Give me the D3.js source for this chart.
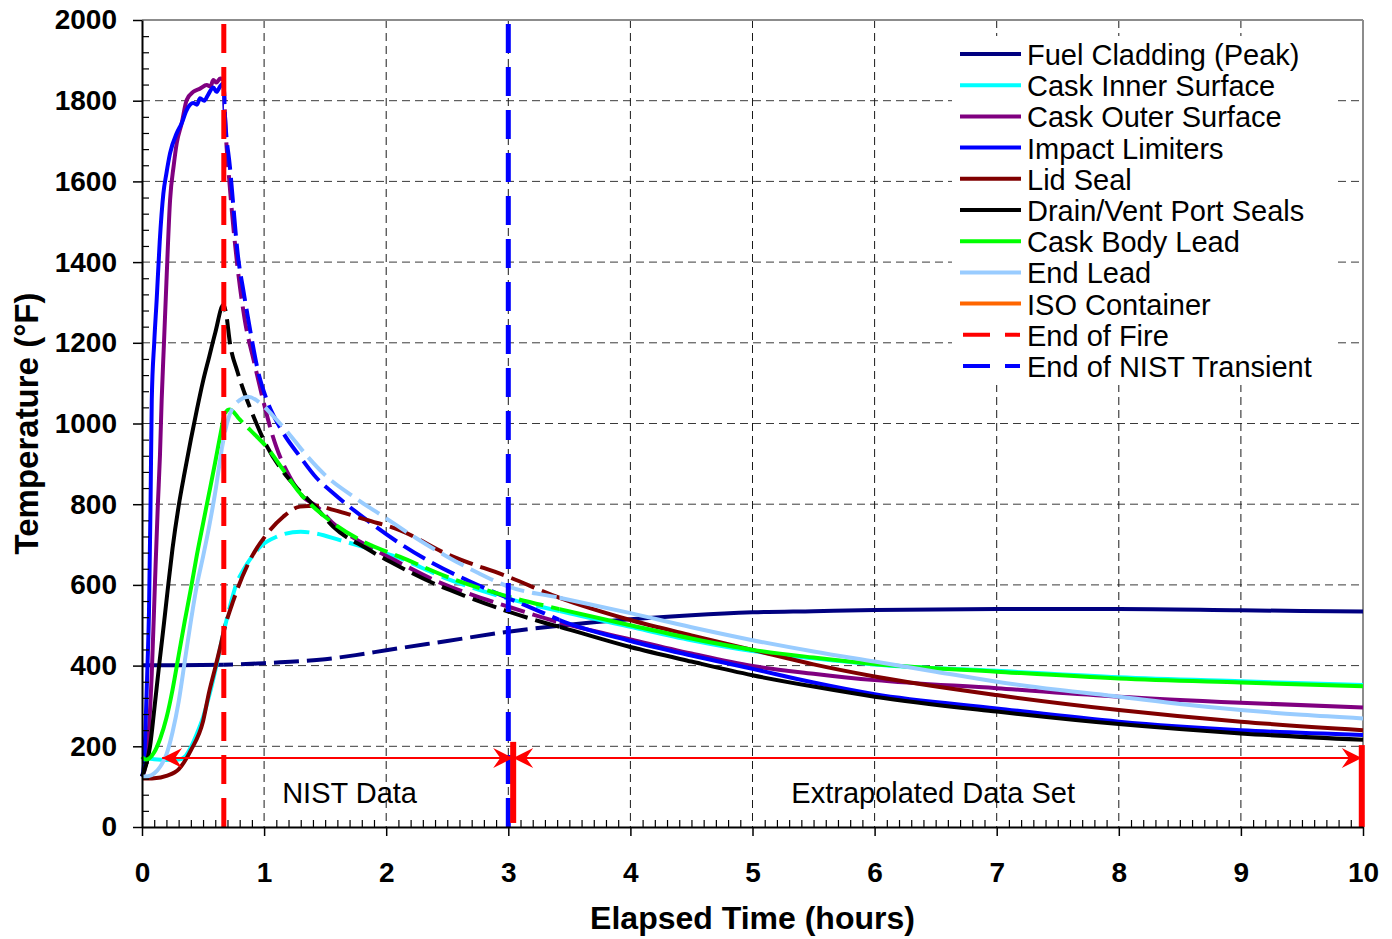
<!DOCTYPE html>
<html>
<head>
<meta charset="utf-8">
<script src="https://cdn.jsdelivr.net/npm/d3@7"></script>
<style>
  body { margin: 0; background: #fff; }
  svg text { font-family: "Liberation Sans", Arial, sans-serif; }
</style>
</head>
<body>
<svg class="main" width="1392" height="939"></svg>
<script>
var FIRE_END = 0.67;   // hours
var NIST_END = 3.0;    // hours
var DASH_END = 3.42;   // series drawn dashed between FIRE_END and here

var X_TICKS = d3.range(0, 11);
var Y_TICKS = d3.range(0, 2001, 200);

// [hours, degF]
var fuelCladding = [[0,401],[0.3,401],[0.67,402],[1.0,406],[1.25,410],[1.5,416],[1.75,426],[2.0,438],[2.5,461],[3.0,484],[3.42,499],[4.0,515],[4.5,525],[5.0,532],[5.5,535],[6.0,538],[7.0,540],[8.0,540],[9.0,537],[10.0,534]];
var caskInner = [[0,172],[0.05,170],[0.1,168],[0.2,166],[0.3,167],[0.35,174],[0.4,198],[0.45,232],[0.5,272],[0.55,325],[0.6,388],[0.67,485],[0.72,546],[0.77,600],[0.83,637],[0.9,670],[0.97,695],[1.1,719],[1.3,732],[1.43,727],[1.62,711],[1.84,692],[2.06,672],[2.5,615],[3.0,566],[3.42,535],[4.0,496],[4.5,463],[5.0,436],[5.5,418],[6.0,403],[7.0,387],[8.0,371],[9.0,361],[10.0,352]];
var caskOuter = [[0,125],[0.02,140],[0.05,215],[0.08,380],[0.107,612],[0.13,800],[0.147,920],[0.161,1058],[0.18,1200],[0.2,1350],[0.23,1554],[0.26,1640],[0.284,1694],[0.325,1744],[0.366,1802],[0.42,1822],[0.475,1830],[0.53,1839],[0.56,1835],[0.584,1851],[0.61,1845],[0.64,1855],[0.667,1852],[0.68,1760],[0.69,1700],[0.71,1620],[0.76,1450],[0.84,1260],[0.92,1150],[0.99,1060],[1.05,990],[1.1,942],[1.21,868],[1.32,818],[1.43,795],[1.567,752],[1.84,698],[2.11,655],[2.386,613],[2.66,580],[3.0,546],[3.42,507],[4.0,465],[4.5,430],[5.0,399],[5.5,380],[6.0,364],[7.0,344],[8.0,323],[9.0,308],[10.0,296]];
var impactLimiters = [[0,125],[0.015,150],[0.03,260],[0.045,400],[0.057,530],[0.07,800],[0.08,1058],[0.1,1200],[0.12,1306],[0.145,1450],[0.175,1570],[0.2,1620],[0.23,1670],[0.284,1719],[0.325,1744],[0.366,1777],[0.42,1794],[0.45,1790],[0.475,1806],[0.51,1800],[0.54,1814],[0.584,1833],[0.61,1822],[0.64,1836],[0.667,1843],[0.68,1760],[0.72,1636],[0.79,1405],[0.83,1330],[0.89,1224],[0.95,1130],[1.02,1060],[1.15,980],[1.294,918],[1.43,865],[1.567,827],[1.84,761],[2.11,703],[2.386,653],[2.66,612],[3.0,567],[3.26,534],[3.42,513],[4.0,461],[4.5,425],[5.0,392],[5.5,358],[6.0,329],[7.0,294],[8.0,261],[9.0,240],[10.0,228]];
var lidSeal = [[0,120],[0.1,121],[0.2,127],[0.3,143],[0.4,190],[0.5,262],[0.55,335],[0.6,395],[0.64,445],[0.67,485],[0.75,563],[0.885,662],[1.02,725],[1.157,769],[1.294,794],[1.43,796],[1.567,786],[1.84,761],[2.11,736],[2.5,676],[3.0,620],[3.42,568],[4.0,513],[4.5,475],[5.0,439],[5.5,403],[6.0,373],[7.0,327],[8.0,290],[9.0,261],[10.0,240]];
var drainVent = [[0,125],[0.03,150],[0.066,200],[0.1,290],[0.14,400],[0.18,505],[0.215,600],[0.25,690],[0.3,795],[0.35,880],[0.4,960],[0.45,1035],[0.5,1105],[0.55,1165],[0.6,1225],[0.667,1294],[0.69,1270],[0.72,1200],[0.78,1130],[0.84,1075],[0.91,1020],[1.02,945],[1.157,880],[1.294,832],[1.43,790],[1.567,744],[1.84,690],[2.11,645],[2.386,604],[2.66,571],[3.0,534],[3.31,505],[3.42,496],[4.0,446],[4.5,410],[5.0,376],[5.5,348],[6.0,323],[7.0,286],[8.0,255],[9.0,232],[10.0,216]];
var caskBodyLead = [[0,174],[0.03,167],[0.06,170],[0.1,185],[0.15,220],[0.2,270],[0.25,340],[0.3,425],[0.35,510],[0.4,590],[0.45,675],[0.5,752],[0.55,828],[0.6,905],[0.65,985],[0.67,1015],[0.7,1033],[0.72,1035],[0.8,1010],[0.885,984],[1.02,942],[1.157,885],[1.294,827],[1.43,786],[1.567,753],[1.84,703],[2.11,670],[2.5,620],[3.0,571],[3.42,540],[4.0,500],[4.5,467],[5.0,439],[5.5,420],[6.0,404],[7.0,385],[8.0,368],[9.0,358],[10.0,349]];
var endLead = [[0,125],[0.05,126],[0.1,133],[0.15,150],[0.2,180],[0.25,235],[0.3,310],[0.35,410],[0.4,510],[0.45,600],[0.5,670],[0.55,745],[0.6,830],[0.65,930],[0.67,965],[0.71,1015],[0.75,1042],[0.8,1058],[0.87,1066],[0.95,1055],[1.0,1042],[1.1,1010],[1.2,976],[1.35,920],[1.5,872],[1.75,815],[2.0,765],[2.25,715],[2.5,670],[2.75,630],[3.0,596],[3.42,568],[4.0,530],[4.5,495],[5.0,463],[5.5,435],[6.0,410],[6.5,385],[7.0,360],[7.5,340],[8.0,323],[8.5,305],[9.0,290],[9.5,278],[10.0,269]];
var isoContainer = []; // legend only, no trace on the plot

var SERIES = [
  {name: 'Fuel Cladding (Peak)', color: '#000080', data: fuelCladding},
  {name: 'Cask Inner Surface', color: '#00FFFF', data: caskInner},
  {name: 'Cask Outer Surface', color: '#800080', data: caskOuter},
  {name: 'Impact Limiters', color: '#0000FF', data: impactLimiters},
  {name: 'Lid Seal', color: '#800000', data: lidSeal},
  {name: 'Drain/Vent Port Seals', color: '#000000', data: drainVent},
  {name: 'Cask Body Lead', color: '#00FF00', data: caskBodyLead},
  {name: 'End Lead', color: '#99CCFF', data: endLead},
  {name: 'ISO Container', color: '#FF6600', data: isoContainer}
];
var REF_LINES = [
  {name: 'End of Fire', color: '#FF0000', t: FIRE_END},
  {name: 'End of NIST Transient', color: '#0000FF', t: NIST_END}
];

// red span annotation along the bottom
var SPAN_TEMP = 171;
var SPANS = [
  {label: 'NIST Data', from: 0.165, to: 3.04, labelAt: 1.7},
  {label: 'Extrapolated Data Set', from: 3.04, to: 9.99, labelAt: 6.48}
];
var BARS = [[3.04, 10, 211], [9.99, 0, 203]]; // [hours, low degF, high degF]

var svg = d3.select('svg.main');
var x = d3.scaleLinear().domain([0, 10]).range([142, 1363]);
var y = d3.scaleLinear().domain([0, 2000]).range([827, 20]);

function drawGrid() {
  var g = svg.append('g').attr('class', 'grid');
  g.selectAll('line.h')
    .data(Y_TICKS.filter(function(d) { return d > 0 && d < 2000; }))
    .enter().append('line')
    .attr('x1', x(0)).attr('x2', x(10))
    .attr('y1', function(d) { return y(d); })
    .attr('y2', function(d) { return y(d); })
    .attr('stroke', '#3a3a3a').attr('stroke-width', 1)
    .attr('stroke-dasharray', '8,5');
  g.selectAll('line.v')
    .data(X_TICKS.filter(function(d) { return d > 0 && d < 10; }))
    .enter().append('line')
    .attr('x1', function(d) { return x(d); })
    .attr('x2', function(d) { return x(d); })
    .attr('y1', y(2000)).attr('y2', y(0))
    .attr('stroke', '#1a1a1a').attr('stroke-width', 1)
    .attr('stroke-dasharray', '8,5');

  // top / right frame in grey
  g.append('line').attr('x1', x(0)).attr('x2', x(10)).attr('y1', y(2000)).attr('y2', y(2000))
    .attr('stroke', '#8c8c8c').attr('stroke-width', 2);
  g.append('line').attr('x1', x(10)).attr('x2', x(10)).attr('y1', y(2000)).attr('y2', y(0))
    .attr('stroke', '#8c8c8c').attr('stroke-width', 2);
}

function drawSeries() {
  var defs = svg.append('defs');
  var solid = defs.append('clipPath').attr('id', 'clip-solid');
  solid.append('rect').attr('x', 0).attr('y', 0)
    .attr('width', x(FIRE_END)).attr('height', 939);
  solid.append('rect').attr('x', x(DASH_END)).attr('y', 0)
    .attr('width', 1392 - x(DASH_END)).attr('height', 939);
  defs.append('clipPath').attr('id', 'clip-dash')
    .append('rect').attr('x', x(FIRE_END)).attr('y', 0)
    .attr('width', x(DASH_END) - x(FIRE_END)).attr('height', 939);

  var line = d3.line()
    .x(function(d) { return x(d[0]); })
    .y(function(d) { return y(d[1]); })
    .curve(d3.curveMonotoneX);

  var g = svg.append('g').attr('class', 'series');
  SERIES.forEach(function(s) {
    if (!s.data.length) return;
    g.append('path').datum(s.data)
      .attr('d', line)
      .attr('fill', 'none').attr('stroke', s.color).attr('stroke-width', 4)
      .attr('stroke-linejoin', 'round')
      .attr('clip-path', 'url(#clip-solid)');
    g.append('path').datum(s.data)
      .attr('d', line)
      .attr('fill', 'none').attr('stroke', s.color).attr('stroke-width', 4)
      .attr('stroke-dasharray', '25,8')
      .attr('clip-path', 'url(#clip-dash)');
  });
}

function drawRefLines() {
  svg.append('g').attr('class', 'ref-lines')
    .selectAll('line').data(REF_LINES)
    .enter().append('line')
    .attr('x1', function(d) { return x(d.t); })
    .attr('x2', function(d) { return x(d.t); })
    .attr('y1', y(0)).attr('y2', y(2000))
    .attr('stroke', function(d) { return d.color; })
    .attr('stroke-width', 5)
    .attr('stroke-dasharray', '29,14');
}

function arrowHead(tipX, tipY, dir) {
  return 'M' + tipX + ',' + tipY +
    'L' + (tipX + dir * 20) + ',' + (tipY - 10) +
    'L' + (tipX + dir * 13) + ',' + tipY +
    'L' + (tipX + dir * 20) + ',' + (tipY + 10) + 'Z';
}

function drawSpans() {
  var g = svg.append('g').attr('class', 'spans');
  var yy = y(SPAN_TEMP);

  BARS.forEach(function(b) {
    g.append('line')
      .attr('x1', x(b[0])).attr('x2', x(b[0]))
      .attr('y1', y(b[1])).attr('y2', y(b[2]))
      .attr('stroke', '#FF0000').attr('stroke-width', 6);
  });

  SPANS.forEach(function(s) {
    g.append('line')
      .attr('x1', x(s.from)).attr('x2', x(s.to))
      .attr('y1', yy).attr('y2', yy)
      .attr('stroke', '#FF0000').attr('stroke-width', 2);
    g.append('path').attr('d', arrowHead(x(s.from), yy, 1)).attr('fill', '#FF0000');
    g.append('path').attr('d', arrowHead(x(s.to), yy, -1)).attr('fill', '#FF0000');
    g.append('text')
      .attr('x', x(s.labelAt)).attr('y', 803)
      .attr('text-anchor', 'middle')
      .style('font-size', '29px')
      .attr('fill', '#000')
      .text(s.label);
  });
}

function drawAxes() {
  var minorX = d3.range(0, 101).filter(function(i) { return i % 10 !== 0; }).map(function(i) { return i / 10; });
  var minorY = d3.range(0, 2001, 40).filter(function(d) { return d % 200 !== 0; });

  var mx = svg.append('g').attr('transform', 'translate(0,' + y(0) + ')')
    .call(d3.axisTop(x).tickValues(minorX).tickSize(7).tickFormat(''));
  mx.select('.domain').remove();
  mx.selectAll('line').attr('stroke', '#000').attr('stroke-width', 1.2);

  var my = svg.append('g').attr('transform', 'translate(' + x(0) + ',0)')
    .call(d3.axisRight(y).tickValues(minorY).tickSize(7).tickFormat(''));
  my.select('.domain').remove();
  my.selectAll('line').attr('stroke', '#000').attr('stroke-width', 1.2);

  var gx = svg.append('g').attr('class', 'x-axis')
    .attr('transform', 'translate(0,' + y(0) + ')')
    .call(d3.axisBottom(x).tickValues(X_TICKS).tickSize(9).tickSizeOuter(0).tickPadding(26).tickFormat(d3.format('d')));
  gx.select('.domain').attr('stroke', '#000').attr('stroke-width', 2);
  gx.selectAll('line').attr('stroke', '#000').attr('stroke-width', 1.5);
  gx.selectAll('text')
    .style('font-family', '"Liberation Sans", Arial, sans-serif')
    .style('font-size', '28px').style('font-weight', 'bold').attr('fill', '#000');

  var gy = svg.append('g').attr('class', 'y-axis')
    .attr('transform', 'translate(' + x(0) + ',0)')
    .call(d3.axisLeft(y).tickValues(Y_TICKS).tickSize(9).tickSizeOuter(0).tickPadding(16).tickFormat(d3.format('d')));
  gy.select('.domain').attr('stroke', '#000').attr('stroke-width', 2);
  gy.selectAll('line').attr('stroke', '#000').attr('stroke-width', 1.5);
  gy.selectAll('text')
    .style('font-family', '"Liberation Sans", Arial, sans-serif')
    .style('font-size', '28px').style('font-weight', 'bold').attr('fill', '#000');

  svg.append('text')
    .attr('x', (x(0) + x(10)) / 2).attr('y', 929)
    .attr('text-anchor', 'middle')
    .style('font-size', '32px').style('font-weight', 'bold')
    .text('Elapsed Time (hours)');

  svg.append('text')
    .attr('transform', 'translate(38,' + (y(0) + y(2000)) / 2 + ') rotate(-90)')
    .attr('text-anchor', 'middle')
    .style('font-size', '33px').style('font-weight', 'bold')
    .text('Temperature (°F)');
}

function drawLegend() {
  var g = svg.append('g').attr('class', 'legend');
  g.append('rect')
    .attr('x', 952).attr('y', 36).attr('width', 386).attr('height', 349)
    .attr('fill', '#fff');

  var rowH = 31.2;
  var items = SERIES.map(function(s) { return {name: s.name, color: s.color, dashed: false}; })
    .concat(REF_LINES.map(function(r) { return {name: r.name, color: r.color, dashed: true}; }));

  items.forEach(function(d, i) {
    var ly = 54 + i * rowH;
    if (d.dashed) {
      g.append('line')
        .attr('x1', 963).attr('x2', 1020).attr('y1', ly).attr('y2', ly)
        .attr('stroke', d.color).attr('stroke-width', 4)
        .attr('stroke-dasharray', '27,15');
    } else {
      g.append('line')
        .attr('x1', 960).attr('x2', 1021).attr('y1', ly).attr('y2', ly)
        .attr('stroke', d.color).attr('stroke-width', 4);
    }
    g.append('text')
      .attr('x', 1027).attr('y', ly + 11)
      .style('font-size', '29px')
      .attr('fill', '#000')
      .text(d.name);
  });
}

function main() {
  drawGrid();
  drawSeries();
  drawRefLines();
  drawSpans();
  drawAxes();
  drawLegend();
}

main();
</script>
</body>
</html>
